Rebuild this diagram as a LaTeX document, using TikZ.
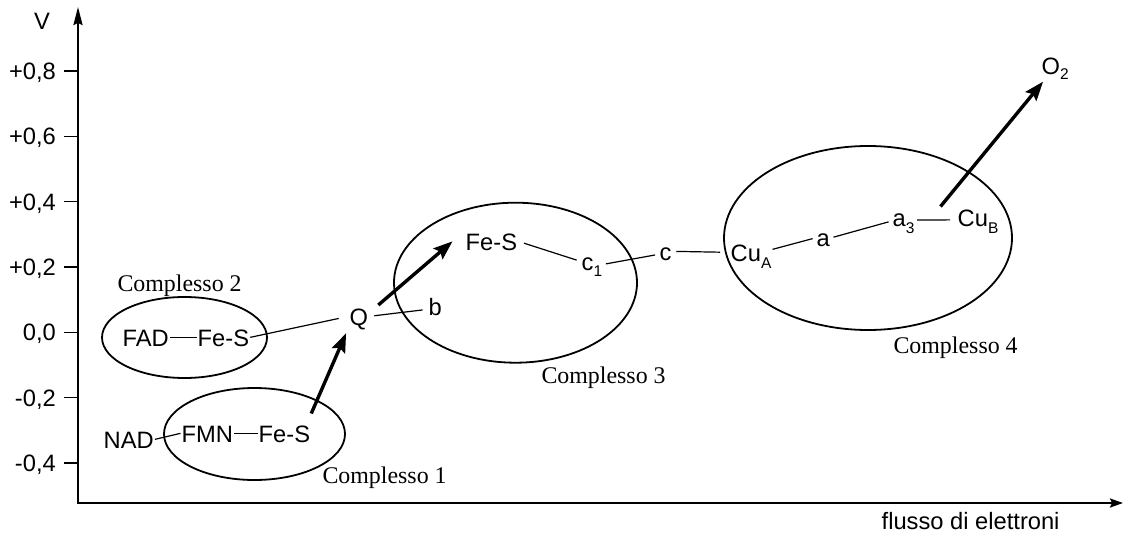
\documentclass[tikz,border=0pt]{standalone}
\usepackage{fontspec}
\setmainfont{Liberation Serif}
\setsansfont{Liberation Sans}
\usetikzlibrary{arrows.meta,shapes.geometric}
\newcommand\lblsize{\fontsize{23.7}{28}\selectfont}
\newcommand\subx[2][6.5pt]{\raisebox{-#1}{\fontsize{15.5}{16}\selectfont #2}}
\begin{document}
\begin{tikzpicture}[x=1pt,y=-1pt,
  lbl/.style={font=\sffamily\lblsize, inner xsep=1pt, inner ysep=2.5pt, text height=17.3pt, text depth=0pt, anchor=base west},
  cplxlbl/.style={font=\rmfamily\fontsize{23.9}{28}\selectfont, inner sep=0pt, anchor=base west},
  ticklbl/.style={font=\sffamily\lblsize, inner sep=0pt, anchor=base east},
  axisline/.style={line width=2.2pt},
  tickline/.style={line width=1.3pt},
  linkline/.style={line width=1.2pt},
  flowarrow/.style={line width=3.4pt, -{Stealth[length=19pt,width=14pt,inset=3pt]}},
  cplxring/.style={draw, ellipse, line width=1.8pt, inner sep=0pt}
]
\useasboundingbox (0,0) rectangle (1124,540);

% axes
\coordinate (o) at (78,503);
\coordinate (ytip) at (78,7);
\coordinate (xtip) at (1123,503);
\draw[axisline, {Stealth[length=18pt,width=9pt,inset=2pt]}-{Stealth[length=13pt,width=9pt,inset=2pt]}] (ytip) -- (o) -- (xtip);
\node[font=\sffamily\lblsize, inner sep=0pt, anchor=base west] (vlab) at (34,30) {V};
\node[font=\sffamily\lblsize, inner sep=0pt, anchor=base west] (xlab) at (881.5,529) {flusso di elettroni};

\foreach \yy/\t [count=\i] in {71/{+0,8}, 136.3/{+0,6}, 201.7/{+0,4}, 267/{+0,2}, 332.3/{0,0}, 397.7/{-0,2}, 463/{-0,4}}{
  \node[ticklbl] (t\i) at (56,\yy+8.5) {\t};
  \draw[tickline] (64,\yy) -- (78,\yy);
}

% complex rings
\node[cplxring, minimum width=165pt, minimum height=81pt] (e2) at (184.5,337.5) {};
\node[cplxring, minimum width=181pt, minimum height=92pt] (e1) at (254.5,434) {};
\node[cplxring, minimum width=243pt, minimum height=160pt] (e3) at (515.5,282.7) {};
\node[cplxring, minimum width=288pt, minimum height=184pt] (e4) at (868,238) {};

\node[cplxlbl] (k2) at (117.3,291) {Complesso 2};
\node[cplxlbl] (k1) at (322.3,483) {Complesso 1};
\node[cplxlbl] (k3) at (541.3,383) {Complesso 3};
\node[cplxlbl] (k4) at (893.3,353) {Complesso 4};

% carriers
\node[lbl] (fad) at (121.5,346) {FAD};
\node[lbl] (fes2) at (196.5,346) {Fe-S};
\node[lbl] (q) at (348.5,325) {Q};
\node[lbl] (b) at (427.5,315) {b};
\node[lbl] (fes3) at (464.5,250) {Fe-S};
\node[lbl] (c1) at (580.5,270) {c\subx{1}};
\node[lbl] (c) at (658.5,260) {c};
\node[lbl] (cua) at (729.5,261) {Cu\subx[7pt]{A}};
\node[lbl] (a) at (815.5,246.5) {a};
\node[lbl] (a3) at (891.5,226.7) {a\subx{3}};
\node[lbl] (cub) at (956.5,226.5) {Cu\subx[7pt]{B}};
\node[lbl] (o2) at (1040.5,75) {O\subx[5pt]{2}};
\node[lbl] (nad) at (102.5,448) {NAD};
\node[lbl] (fmn) at (180.5,442) {FMN};
\node[lbl] (fes1) at (257.5,442) {Fe-S};

% connectors
\draw[linkline] (fad) -- (fes2);
\draw[linkline, shorten >=10pt] (fes2.east) -- (q.west);
\draw[linkline, shorten <=5pt, shorten >=5pt] (q.east) -- ([yshift=-3pt]b.west);
\draw[flowarrow] ([xshift=9pt]q.north east) -- ([xshift=-12pt]fes3.west);
\draw[linkline, shorten <=6pt, shorten >=4pt] (fes3.east) -- (c1.west);
\draw[linkline, shorten <=2.5pt, shorten >=3.5pt] ([yshift=-3pt]c1.east) -- ([yshift=-3pt]c.west);
\draw[linkline, shorten <=3.5pt, shorten >=9.5pt] (c.east) -- (cua.west);
\draw[linkline, shorten >=3pt] ([yshift=3pt]cua.east) -- (a.west);
\draw[linkline, shorten <=2.5pt, shorten >=3pt] (a.east) -- ([yshift=-3pt]a3.west);
\draw[linkline, shorten <=1.5pt, shorten >=6.5pt] ([yshift=-2pt]a3.east) -- ([yshift=-2pt]cub.west);
\draw[flowarrow] ([xshift=-16pt]cub.north west) -- ([xshift=2.5pt,yshift=-4pt]o2.south west);
\draw[linkline] (nad.east) -- (fmn.west);
\draw[linkline] (fmn) -- (fes1);
\draw[flowarrow, shorten >=6pt] ([yshift=8.5pt]fes1.north east) -- (q.south west);
\end{tikzpicture}
\end{document}
